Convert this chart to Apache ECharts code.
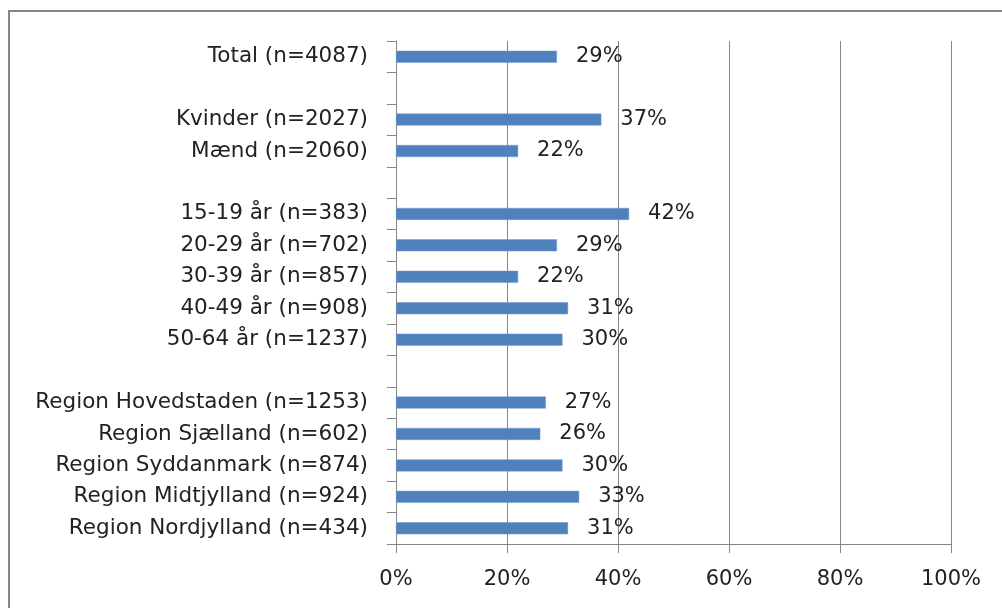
<!DOCTYPE html>
<html>
<head>
<meta charset="utf-8">
<script src="https://cdn.jsdelivr.net/npm/echarts@6/dist/echarts.min.js"></script>
<style>
  html, body { margin: 0; padding: 0; background: #fff; }
  #chart { width: 1002px; height: 608px; }
</style>
</head>
<body>
<div id="chart"></div>
<script>
// categories top to bottom; empty strings are the spacer rows
const categories = [
  'Total (n=4087)',
  '',
  'Kvinder (n=2027)',
  'Mænd (n=2060)',
  '',
  '15-19 år (n=383)',
  '20-29 år (n=702)',
  '30-39 år (n=857)',
  '40-49 år (n=908)',
  '50-64 år (n=1237)',
  '',
  'Region Hovedstaden (n=1253)',
  'Region Sjælland (n=602)',
  'Region Syddanmark (n=874)',
  'Region Midtjylland (n=924)',
  'Region Nordjylland (n=434)'
];
const shares = [0.29, null, 0.37, 0.22, null, 0.42, 0.29, 0.22, 0.31, 0.30, null, 0.27, 0.26, 0.30, 0.33, 0.31];

const font = '"DejaVu Sans", sans-serif';
const grey = '#868686';
const ink = '#222';

const chart = echarts.init(document.getElementById('chart'), null, { renderer: 'canvas' });

chart.setOption({
  animation: false,
  backgroundColor: '#fff',
  textStyle: { fontFamily: font },
  graphic: [{
    type: 'rect',
    shape: { x: 9, y: 11, width: 1010, height: 620 },
    style: { fill: 'none', stroke: grey, lineWidth: 2 },
    silent: true
  }],
  grid: { left: 396, right: 51, top: 41, bottom: 64, containLabel: false },
  xAxis: {
    type: 'value',
    min: 0,
    max: 1,
    interval: 0.2,
    axisLine: { show: true, lineStyle: { color: grey, width: 1 } },
    axisTick: { show: true, length: 9, lineStyle: { color: grey } },
    splitLine: { show: true, lineStyle: { color: grey, width: 1 } },
    axisLabel: {
      color: ink,
      fontSize: 21,
      fontFamily: font,
      margin: 25,
      formatter: (v) => Math.round(v * 100) + '%'
    }
  },
  yAxis: {
    type: 'category',
    data: categories,
    inverse: true,
    axisLine: { show: true, lineStyle: { color: grey, width: 1 } },
    axisTick: { show: true, length: 9, lineStyle: { color: grey } },
    axisLabel: { color: ink, fontSize: 21.5, fontFamily: font, margin: 28, interval: 0 },
    splitLine: { show: false }
  },
  series: [{
    type: 'bar',
    data: shares,
    barWidth: 12,
    itemStyle: { color: '#4f81bd', borderColor: '#6f9ad0', borderWidth: 0.5 },
    label: {
      show: true,
      position: 'right',
      distance: 19,
      color: ink,
      fontSize: 21,
      fontFamily: font,
      formatter: (p) => Math.round(p.value * 100) + '%'
    }
  }]
});
</script>
</body>
</html>
